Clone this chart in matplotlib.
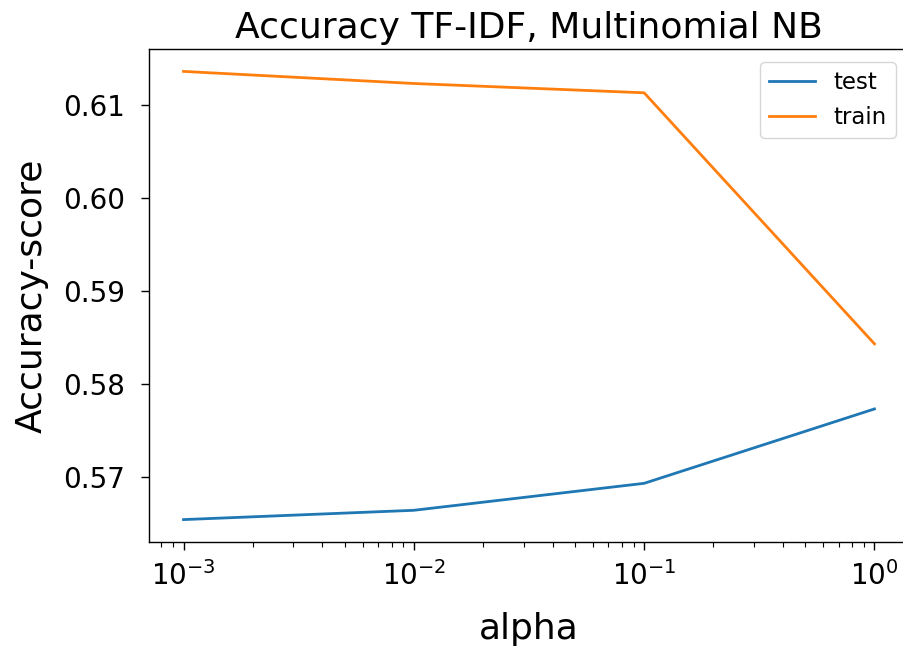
import matplotlib
matplotlib.use("Agg")
import matplotlib.pyplot as plt

alpha = [0.001, 0.01, 0.1, 1.0]
test_acc = [0.5654, 0.5664, 0.5693, 0.5773]
train_acc = [0.6136, 0.6123, 0.6113, 0.5843]

fig = plt.figure(figsize=(9.04, 6.47), dpi=100)
# the axes run slightly past the right edge of the canvas
ax = fig.add_axes([149 / 904, 105 / 647, 760 / 904, 493 / 647])

ax.plot(alpha, test_acc, label="test", lw=2)
ax.plot(alpha, train_acc, label="train", lw=2)
ax.set_xscale("log")
ax.set_yticks([0.57, 0.58, 0.59, 0.60, 0.61])
ax.tick_params(labelsize=20, length=5.5, width=1.0, pad=8.5)
ax.tick_params(axis="y", pad=12)
ax.tick_params(which="minor", length=3.5, width=0.8)
for s in ax.spines.values():
    s.set_linewidth(1.0)
ax.set_xlabel("alpha", fontsize=26, labelpad=15)
ax.set_ylabel("Accuracy-score", fontsize=26, labelpad=10)
ax.set_title("Accuracy TF-IDF, Multinomial NB", fontsize=26, pad=8)
ax.legend(loc="upper right", fontsize=16.5, borderaxespad=0.57)

fig.savefig("out.png", dpi=100)
